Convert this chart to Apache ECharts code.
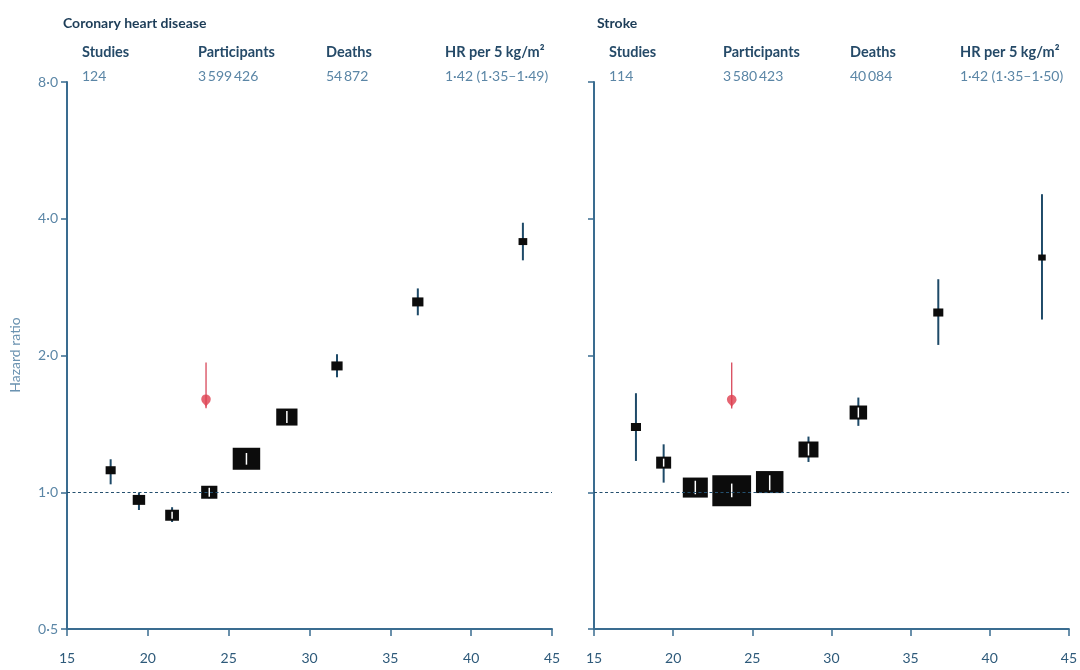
<!DOCTYPE html>
<html>
<head>
<meta charset="utf-8">
<script src="https://cdn.jsdelivr.net/npm/echarts@6/dist/echarts.min.js"></script>
<style>
  html, body { margin: 0; padding: 0; background: #ffffff; }
  #chart { width: 1080px; height: 670px; }
</style>
</head>
<body>
<div id="chart"></div>
<script>
// BMI group medians (kg/m²), hazard ratios with 95% CI and relative weight per group
const bmiCHD = [17.7, 19.45, 21.5, 23.8, 26.1, 28.6, 31.7, 36.7, 43.2];
const hrCHD  = [1.118, 0.962, 0.890, 1.00, 1.185, 1.464, 1.897, 2.624, 3.563];
const loCHD  = [1.041, 0.914, 0.860, 0.97, 1.15, 1.42, 1.791, 2.452, 3.24];
const hiCHD  = [1.182, 0.998, 0.927, 1.03, 1.22, 1.51, 2.013, 2.81, 3.92];
const wtCHD  = [3.2, 4.9, 6.0, 8.3, 23.9, 14.3, 4.0, 4.0, 2.4];

const bmiStroke = [17.65, 19.4, 21.4, 23.7, 26.1, 28.55, 31.7, 36.75, 43.3];
const hrStroke  = [1.392, 1.162, 1.024, 1.008, 1.053, 1.242, 1.498, 2.487, 3.286];
const loStroke  = [1.172, 1.05, 0.99, 0.975, 1.01, 1.166, 1.40, 2.11, 2.40];
const hiStroke  = [1.652, 1.275, 1.06, 1.045, 1.09, 1.326, 1.616, 2.944, 4.53];
const wtStroke  = [3.2, 7.1, 19.8, 47.5, 23.9, 12.6, 9.7, 3.2, 1.8];

// highlighted marker (BMI, HR, upper end of its line)
const redCHD    = [23.6, 1.53, 1.93];
const redStroke = [23.7, 1.528, 1.93];

// axis ticks
const xTicks = [15, 20, 25, 30, 35, 40, 45];
const yTicks = [0.5, 1, 2, 4, 8];

// header texts
const panelTitles = ['Coronary heart disease', 'Stroke'];
const headCols = ['Studies', 'Participants', 'Deaths', 'HR per 5 kg/m²'];
const headCHD = ['124', '3\u2009599\u2009426', '54\u2009872', '1·42 (1·35–1·49)'];
const headStroke = ['114', '3\u2009580\u2009423', '40\u2009084', '1·42 (1·35–1·50)'];

const FONT = 'Lato, "Open Sans", sans-serif';
const AXIS = '#3a6c90';
const CI = '#1e4a68';

function rows(bmi, hr, lo, hi, wt) {
  return bmi.map((b, i) => [b, hr[i], lo[i], hi[i], wt[i]]);
}

// box + CI line; the part of the CI inside the box is drawn in white
function renderBox(params, api) {
  const c = api.coord([api.value(0), api.value(1)]);
  const lo = api.coord([api.value(0), api.value(2)]);
  const hi = api.coord([api.value(0), api.value(3)]);
  const h = 4.5 * Math.sqrt(api.value(4));
  const w = 1.25 * h;
  const top = c[1] - h / 2, bot = c[1] + h / 2;
  const children = [
    { type: 'line', shape: { x1: c[0], y1: hi[1], x2: c[0], y2: lo[1] },
      style: { stroke: CI, lineWidth: 2 } },
    { type: 'rect', shape: { x: c[0] - w / 2, y: top, width: w, height: h },
      style: { fill: '#0c0c0c' } }
  ];
  const y1 = Math.max(hi[1], top + 2), y2 = Math.min(lo[1], bot - 2);
  if (h > 11 && y2 > y1) {
    children.push({ type: 'line', shape: { x1: c[0], y1: y1, x2: c[0], y2: y2 },
      style: { stroke: '#ffffff', lineWidth: 1.5 } });
  }
  return { type: 'group', children: children };
}

function panelSeries(idx, data, red) {
  return [
    {
      type: 'custom', xAxisIndex: idx, yAxisIndex: idx,
      renderItem: renderBox, data: data, z: 3,
      encode: { x: 0, y: [1, 2, 3] },
      markLine: {
        silent: true, symbol: 'none', label: { show: false },
        lineStyle: { color: '#24506f', type: [3, 2.5], width: 1.2 },
        data: [{ yAxis: 1 }]
      }
    },
    {
      type: 'line', xAxisIndex: idx, yAxisIndex: idx, symbol: 'none', z: 4,
      lineStyle: { color: '#d8485a', width: 1.3 },
      data: [[red[0], red[2]], [red[0], red[1]]]
    },
    {
      type: 'scatter', xAxisIndex: idx, yAxisIndex: idx, z: 5,
      symbol: 'pin', symbolSize: 16,
      itemStyle: { color: '#de3f4f' },
      data: [[red[0], red[1]]]
    }
  ];
}

function xAxis(gridIndex) {
  return {
    type: 'value', gridIndex: gridIndex, min: 15, max: 45, interval: 5,
    axisLine: { lineStyle: { color: AXIS, width: 2 } },
    axisTick: { length: 7, lineStyle: { color: AXIS, width: 1.5 } },
    axisLabel: { color: '#2e5a7a', fontFamily: FONT, fontSize: 14, margin: 22,
      formatter: v => xTicks.includes(v) ? String(v) : '' },
    splitLine: { show: false }
  };
}

function yAxis(gridIndex, showLabels) {
  return {
    type: 'log', logBase: 2, gridIndex: gridIndex, min: 0.5, max: 8,
    axisLine: { show: true, lineStyle: { color: AXIS, width: 2 } },
    axisTick: { show: true, length: 6, lineStyle: { color: AXIS, width: 1.5 } },
    axisLabel: { show: showLabels, color: '#5b86a6', fontFamily: FONT, fontSize: 14, margin: 9,
      formatter: v => yTicks.some(t => Math.abs(t - v) < 1e-6) ? v.toFixed(1).replace('.', '·') : '' },
    splitLine: { show: false }
  };
}

function header(x0, cols, title, values) {
  const out = [{ type: 'text', left: x0, top: 16,
    style: { text: title, font: 'bold 14px ' + FONT, fill: '#1c3c57' } }];
  cols.forEach((cx, i) => {
    out.push({ type: 'text', left: cx, top: 45,
      style: { text: headCols[i], font: 'bold 14.5px ' + FONT, fill: '#254a68' } });
    out.push({ type: 'text', left: cx, top: 69,
      style: { text: values[i], font: '14px ' + FONT, fill: '#5b86a6' } });
  });
  return out;
}

const chart = echarts.init(document.getElementById('chart'));
chart.setOption({
  animation: false,
  backgroundColor: '#ffffff',
  grid: [
    { left: 67, right: 528, top: 82, bottom: 41 },
    { left: 594, right: 3, top: 82, bottom: 41 }
  ],
  xAxis: [xAxis(0), xAxis(1)],
  yAxis: [yAxis(0, true), yAxis(1, false)],
  series: [
    ...panelSeries(0, rows(bmiCHD, hrCHD, loCHD, hiCHD, wtCHD), redCHD),
    ...panelSeries(1, rows(bmiStroke, hrStroke, loStroke, hiStroke, wtStroke), redStroke)
  ],
  graphic: [
    ...header(63, [82, 198, 326, 445], panelTitles[0], headCHD),
    ...header(597, [609, 723, 850, 960], panelTitles[1], headStroke),
    { type: 'text', x: 15, y: 355, rotation: Math.PI / 2,
      style: { text: 'Hazard ratio', font: '14px ' + FONT, fill: '#6b93b1',
        textAlign: 'center', textVerticalAlign: 'middle' } }
  ]
});
</script>
</body>
</html>
